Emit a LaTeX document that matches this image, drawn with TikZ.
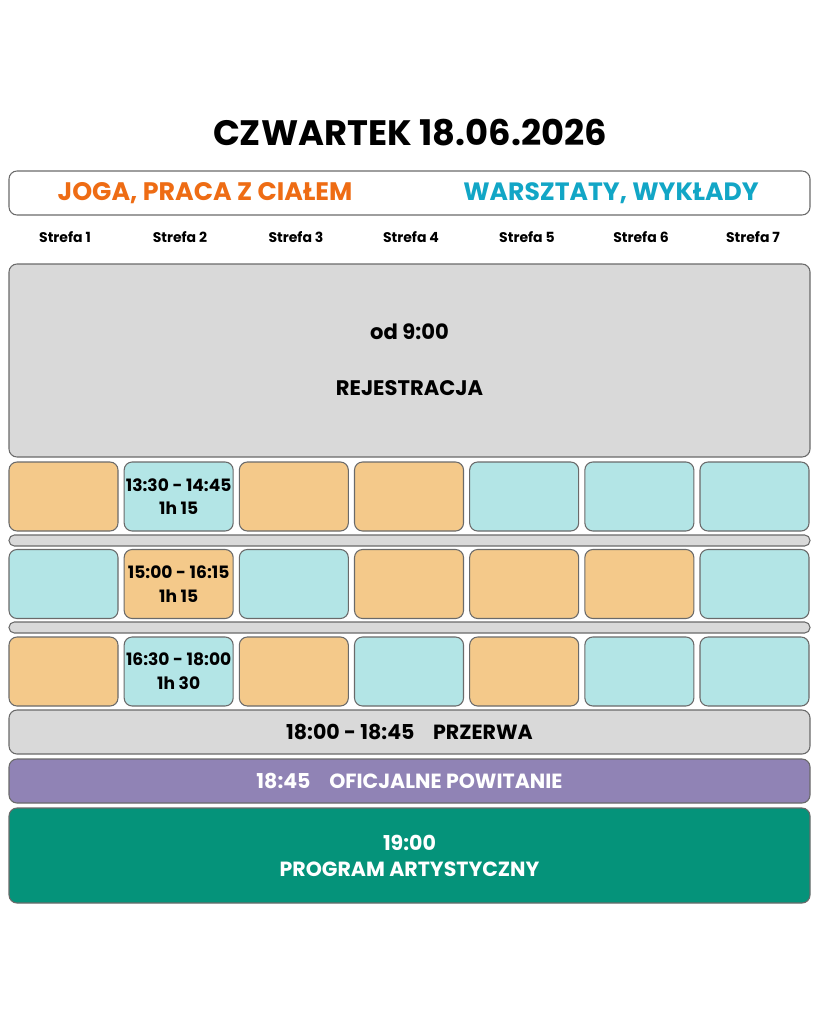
\documentclass[tikz,border=0pt]{standalone}
\usepackage{fontspec}
\setmainfont{Poppins}[BoldFont={* Bold}]
\definecolor{orcell}{HTML}{F4C98A}
\definecolor{tecell}{HTML}{B3E5E6}
\definecolor{grcell}{HTML}{D9D9D9}
\definecolor{purp}{HTML}{9083B5}
\definecolor{grn}{HTML}{05937A}
\definecolor{ortxt}{HTML}{EE6C14}
\definecolor{tetxt}{HTML}{12A6C6}
\definecolor{edge}{HTML}{6A6A6A}
\newcommand{\fs}[1]{\fontsize{#1}{#1}\selectfont}
\tikzset{
  box/.style={draw=edge, line width=0.8pt, rounded corners=6pt, inner sep=0pt, align=center, font=\bfseries},
  cellbox/.style={box, minimum width=81.75pt, minimum height=51.75pt, font=\bfseries\fs{12.5}},
  bar/.style={box, fill=grcell, rounded corners=4pt, minimum width=600.75pt, minimum height=8.25pt},
  wide/.style={box, minimum width=600.75pt},
  zone/.style={font=\bfseries\fs{10.5}},
  celltxt/.style={font=\bfseries\fs{12.8}, align=center},
  big/.style={font=\bfseries\fs{15.4}, align=center},
}
\begin{document}
\begin{tikzpicture}[x=0.75pt,y=-0.75pt]
\useasboundingbox (0,0) rectangle (819,1024);
\fill[white] (0,0) rectangle (819,1024);
\node[font=\bfseries\fs{26.5}] (title) at (410,133) {CZWARTEK 18.06.2026};
\node[wide, fill=white, minimum height=33pt] (legend) at (409.5,193) {};
\node[font=\bfseries\fs{19}, text=ortxt] (joga) at (205,193) {JOGA, PRACA Z CIAŁEM};
\node[font=\bfseries\fs{18.8}, text=tetxt] (wars) at (611,193) {WARSZTATY, WYKŁADY};
\foreach \i/\x in {1/65,2/180,3/296,4/411,5/527,6/641,7/753}
  \node[zone] (s\i) at (\x,237) {Strefa \i};
\node[wide, fill=grcell, minimum height=144.75pt] (reg) at (409.5,360.5) {};
\node[big, font=\bfseries\fs{15.8}] (od) at (409.5,332) {od 9:00};
\node[big, font=\bfseries\fs{15.8}] (rej) at (409.5,388) {REJESTRACJA};
% row 1
\foreach \i/\c in {1/orcell,2/tecell,3/orcell,4/orcell,5/tecell,6/tecell,7/tecell}
  \node[cellbox, fill=\c] (a\i) at ({63.5+115.17*(\i-1)},496.5) {};
\node[celltxt] (a2t) at (a2) {13:30 - 14:45\\[5pt]1h 15};
\node[bar] (b1) at (409.5,540.5) {};
% row 2
\foreach \i/\c in {1/tecell,2/orcell,3/tecell,4/orcell,5/orcell,6/orcell,7/tecell}
  \node[cellbox, fill=\c] (c\i) at ({63.5+115.17*(\i-1)},584) {};
\node[celltxt] (c2t) at (c2) {15:00 - 16:15\\[5pt]1h 15};
\node[bar] (b2) at (409.5,627.5) {};
% row 3
\foreach \i/\c in {1/orcell,2/tecell,3/orcell,4/tecell,5/orcell,6/tecell,7/tecell}
  \node[cellbox, fill=\c] (d\i) at ({63.5+115.17*(\i-1)},671.5) {};
\node[celltxt] (d2t) at (d2) {16:30 - 18:00\\[5pt]1h 30};
% bottom
\node[wide, fill=grcell, minimum height=33pt, big] (prz) at (409.5,732) {18:00 - 18:45\hspace{14pt}PRZERWA};
\node[wide, fill=purp, minimum height=33pt, text=white, big] (ofi) at (409.5,781) {18:45\hspace{14pt}OFICJALNE POWITANIE};
\node[wide, fill=grn, minimum height=71.25pt] (prog) at (409.5,855.5) {};
\node[text=white, big] (progt) at (prog) {19:00\\[4pt]PROGRAM ARTYSTYCZNY};
\end{tikzpicture}
\end{document}
